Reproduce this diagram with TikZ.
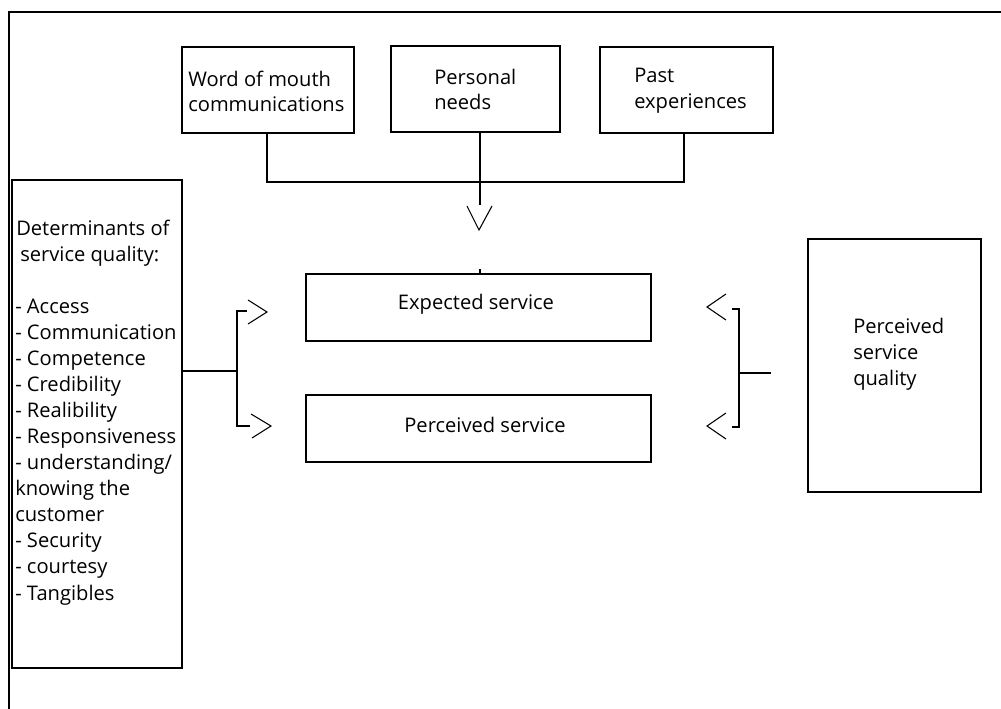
\documentclass[tikz,border=0pt]{standalone}
\usepackage{fontspec}
\setmainfont{Open Sans}
\usetikzlibrary{fit,calc}
\newcommand{\fsz}{\fontsize{15.1}{19.5}\selectfont}
\tikzset{
  box/.style={draw=black, line width=1.2pt, inner sep=0pt},
  txt/.style={anchor=base west, inner sep=0pt, font=\fsz},
  ctxt/.style={anchor=base, inner sep=0pt, font=\fsz},
  conn/.style={draw=black, line width=1.1pt},
  head/.style={draw=black, line width=0.8pt},
  frame/.style={draw=black, line width=1.4pt}
}
\begin{document}
\begin{tikzpicture}[x=0.75pt, y=-0.75pt]
\useasboundingbox (0,0) rectangle (1001,709);
% outer frame (top and left)
\coordinate (f1) at (9,709);
\coordinate (f2) at (9,12);
\coordinate (f3) at (1001,12);
\draw[frame] (f1) -- (f2) -- (f3);

% top boxes
\node[box, fit={(182,47)(354,133)}] (wom) {};
\node[box, fit={(391,46)(560,132)}] (pers) {};
\node[box, fit={(600,47)(773,133)}] (past) {};
\node[txt] (wom1) at (188,87) {Word of mouth};
\node[txt] (wom2) at (188,112) {communications};
\node[txt] (pers1) at (434,85) {Personal};
\node[txt] (pers2) at (434,110) {needs};
\node[txt] (past1) at (634,83) {Past};
\node[txt] (past2) at (634,109) {experiences};

% middle boxes
\node[box, fit={(306,274)(651,341)}] (exp) {};
\node[box, fit={(306,395)(651,462)}] (perc) {};
\node[ctxt] (expt) at (476,310) {Expected service};
\node[ctxt] (perct) at (485,433) {Perceived service};

% left box
\node[box, fit={(12,180)(182,668)}] (det) {};
\node[txt] (d0) at (16,236) {Determinants of};
\node[txt] (d00) at (20,262) {service quality:};
\foreach \t [count=\i from 0] in {- Access,- Communication,- Competence,- Credibility,- Realibility,- Responsiveness,- understanding/,knowing the,customer,- Security,- courtesy,- Tangibles}
  \node[txt] (d\i x) at (15,{314+26*\i}) {\t};

% right box
\node[box, fit={(808,239)(981,492)}] (pq) {};
\node[txt] (pq1) at (853,334) {Perceived};
\node[txt] (pq2) at (853,360) {service};
\node[txt] (pq3) at (853,386) {quality};

% top connector
\coordinate (j1) at (267,182);
\coordinate (jm) at (480,182);
\coordinate (j3) at (684,182);
\coordinate (vend) at (480,205);
\coordinate (vtip) at (479,230);
\draw[conn] (wom.south -| j1) -- (j1) -- (j3) -- (past.south -| j3);
\draw[conn] (pers.south -| jm) -- (vend);
\draw[head] ($(vtip)+(-12,-24)$) -- (vtip) -- ($(vtip)+(13,-24)$);
\draw[conn] (exp.north -| vend) -- ++(0,-4);

% left connector
\coordinate (lb) at (237,371);
\coordinate (lt) at (237,311);
\coordinate (lbo) at (237,426);
\coordinate (la1) at (267,312);
\coordinate (la2) at (271,426);
\draw[conn] (det.east |- lb) -- (lb);
\draw[conn] (247,311) -- (lt) -- (lbo) -- (250,426);
\draw[head] ($(la1)+(-19,-12)$) -- (la1) -- ($(la1)+(-19,12)$);
\draw[head] ($(la2)+(-20,-12)$) -- (la2) -- ($(la2)+(-19,12)$);

% right connector
\coordinate (rs) at (771,373);
\coordinate (rb) at (739,373);
\coordinate (rt) at (739,309);
\coordinate (rbo) at (739,427);
\coordinate (ra1) at (707,307);
\coordinate (ra2) at (707,426);
\draw[conn] (rs) -- (rb);
\draw[conn] (732,309) -- (rt) -- (rbo) -- (732,427);
\draw[head] ($(ra1)+(19,-13)$) -- (ra1) -- ($(ra1)+(19,13)$);
\draw[head] ($(ra2)+(19,-13)$) -- (ra2) -- ($(ra2)+(19,13)$);
\end{tikzpicture}
\end{document}
